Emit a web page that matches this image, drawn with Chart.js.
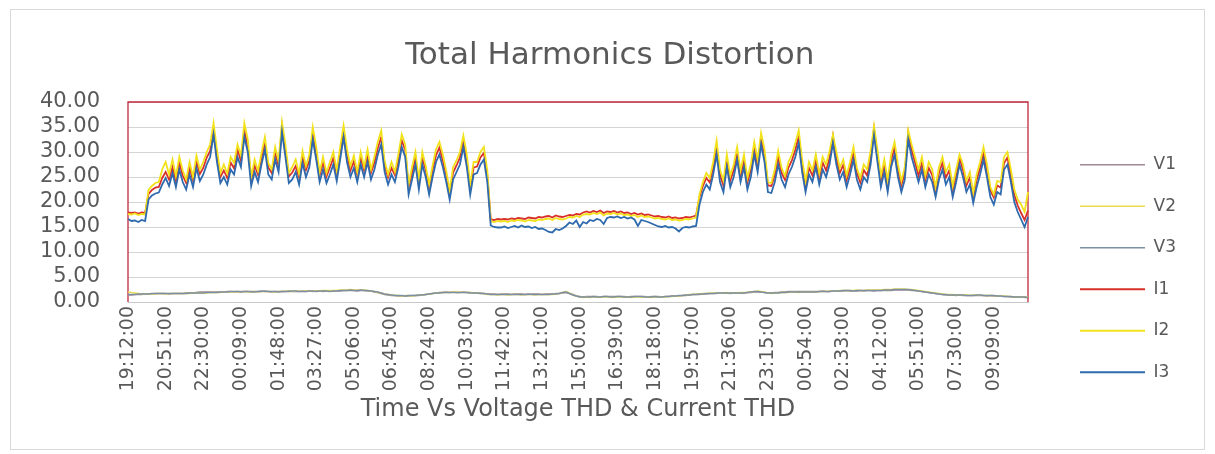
<!DOCTYPE html>
<html>
<head>
<meta charset="utf-8">
<script src="https://cdn.jsdelivr.net/npm/chart.js@4.4.1/dist/chart.umd.min.js"></script>
<style>
html,body{margin:0;padding:0;background:#fff;}
canvas{display:block;}
</style>
</head>
<body>
<canvas id="c" width="1215" height="454"></canvas>
<script>
// ---- data ----
const tickLabels = ['19:12:00','20:51:00','22:30:00','00:09:00','01:48:00','03:27:00','05:06:00','06:45:00',
  '08:24:00','10:03:00','11:42:00','13:21:00','15:00:00','16:39:00','18:18:00','19:57:00','21:36:00',
  '23:15:00','00:54:00','02:33:00','04:12:00','05:51:00','07:30:00','09:09:00'];
const startMinute = 19 * 60 + 12;
const stepMinutes = 9;
const pointCount = 264;
const pad2 = n => String(n).padStart(2, '0');
const categories = [];
for (let k = 0; k < pointCount; k++) {
  const m = (startMinute + k * stepMinutes) % 1440;
  categories.push(pad2(Math.floor(m / 60)) + ':' + pad2(m % 60) + ':00');
}

const v1 = [1.4,1.4,1.5,1.5,1.5,1.6,
  1.6,1.6,1.7,1.7,1.7,1.7,1.6,1.7,1.7,1.7,1.7,1.8,1.8,1.8,1.9,2.0,2.0,
  2.0,2.0,2.0,2.0,2.0,
  2.0,2.1,2.1,2.0,2.1,2.1,2.1,2.1,2.0,2.1,2.1,2.2,2.1,2.1,2.0,2.1,2.1,2.1,2.1,2.2,2.1,2.1,2.1,2.2,2.1,2.2,2.1,2.2,2.2,2.1,2.2,2.2,2.2,2.2,
  2.2,2.3,2.3,2.3,2.3,2.2,2.3,2.3,2.2,2.2,
  2.0,1.9,1.7,1.5,1.4,1.3,
  1.3,1.2,1.2,1.2,1.2,1.3,1.3,1.3,1.4,1.5,1.6,1.7,
  1.8,1.9,1.9,2.0,1.9,2.0,1.9,1.9,2.0,1.9,1.9,1.8,1.8,1.8,1.7,
  1.6,1.6,1.6,1.5,1.6,1.6,1.6,1.5,1.6,1.6,1.6,1.5,1.5,1.6,1.6,1.6,1.5,1.6,1.6,1.6,1.7,1.7,
  1.8,1.9,
  1.7,1.5,1.2,1.1,1.0,
  1.1,1.1,1.1,1.1,1.0,1.1,1.1,1.1,1.1,1.1,1.1,1.1,1.0,1.1,1.1,1.1,1.1,1.1,1.0,1.1,1.1,1.1,1.0,1.1,1.1,1.2,1.2,1.2,1.3,
  1.3,1.4,1.5,1.5,1.5,1.6,1.6,1.7,1.7,1.7,1.8,
  1.8,1.8,1.7,1.8,1.8,1.8,1.8,1.9,
  1.9,2.0,2.0,2.0,1.9,
  1.8,1.8,1.9,1.9,2.0,2.0,
  2.1,2.1,2.1,2.1,2.1,2.1,2.1,2.1,2.1,2.1,2.2,2.1,2.1,
  2.2,2.2,2.2,2.2,2.3,2.2,2.2,2.2,2.3,2.2,2.3,2.3,2.2,2.3,2.3,2.3,2.3,
  2.3,2.4,2.4,2.4,2.4,2.4,2.3,
  2.3,2.2,2.1,2.0,1.9,1.8,1.7,1.6,
  1.5,1.4,1.4,1.4,1.3,1.4,1.3,1.3,1.3,1.3,1.3,1.3,1.3,1.2,1.3,1.2,1.2,
  1.2,1.1,1.1,1.0,1.0,1.0,1.0,0.9,0.9];

const v2 = [2.0,1.9,1.8,1.7,1.6,1.6,
  1.6,1.6,1.6,1.7,1.7,1.6,1.7,1.7,1.7,1.7,1.7,1.7,1.7,1.8,1.8,1.8,1.8,
  1.8,1.9,1.9,1.9,1.9,
  2.0,2.0,2.0,2.1,2.0,2.0,2.1,2.0,2.1,2.1,2.0,2.1,2.1,2.1,2.1,2.0,2.1,2.1,2.2,2.1,2.1,2.2,2.2,2.1,2.2,2.2,2.2,2.2,2.2,2.3,2.3,2.3,2.3,2.3,
  2.4,2.4,2.4,2.5,2.4,2.4,2.4,2.4,2.3,2.2,
  2.1,1.9,1.8,1.6,1.5,1.4,
  1.3,1.3,1.2,1.3,1.3,1.2,1.3,1.4,1.4,1.5,1.6,1.7,
  1.8,1.8,1.9,1.9,1.9,2.0,2.0,2.0,1.9,1.9,1.9,1.8,1.8,1.7,1.7,
  1.5,1.5,1.5,1.4,1.5,1.5,1.4,1.5,1.5,1.5,1.4,1.5,1.5,1.5,1.4,1.5,1.5,1.5,1.5,1.5,1.6,1.7,
  1.9,2.1,
  1.8,1.4,1.2,1.0,0.9,
  1.0,0.9,1.0,1.0,1.0,1.0,1.0,1.0,0.9,1.0,1.0,1.0,1.0,0.9,1.0,1.0,1.0,1.0,1.0,0.9,1.0,1.0,1.0,1.0,1.1,1.1,1.2,1.2,1.3,
  1.4,1.5,1.5,1.6,1.6,1.7,1.7,1.8,1.8,1.8,1.8,
  1.8,1.9,1.8,1.8,1.8,1.9,1.9,1.9,
  2.0,2.1,2.2,2.1,2.0,
  1.8,1.7,1.8,1.8,1.9,1.9,
  1.9,2.0,2.0,1.9,2.0,2.0,2.0,2.0,2.0,2.1,2.1,2.1,2.2,
  2.2,2.2,2.3,2.3,2.3,2.3,2.3,2.4,2.3,2.3,2.4,2.4,2.4,2.4,2.4,2.5,2.5,
  2.5,2.6,2.6,2.6,2.6,2.5,2.5,
  2.4,2.3,2.2,2.1,2.0,1.9,1.8,1.7,
  1.6,1.5,1.5,1.5,1.4,1.4,1.4,1.4,1.3,1.4,1.4,1.4,1.3,1.3,1.3,1.3,1.2,
  1.2,1.2,1.1,1.1,1.0,1.0,1.0,1.0,1.0];

const v3 = [1.5,1.5,1.5,1.6,1.6,1.6,
  1.6,1.7,1.7,1.7,1.7,1.7,1.7,1.7,1.7,1.7,1.7,1.7,1.8,1.8,1.8,1.8,1.8,
  1.9,1.9,1.9,1.9,2.0,
  2.0,2.0,2.1,2.1,2.1,2.0,2.1,2.1,2.1,2.0,2.1,2.1,2.2,2.1,2.1,2.1,2.0,2.1,2.1,2.1,2.2,2.2,2.1,2.1,2.1,2.2,2.2,2.1,2.2,2.2,2.2,2.1,2.2,2.2,
  2.3,2.3,2.3,2.4,2.3,2.3,2.4,2.3,2.3,2.2,
  2.1,2.0,1.8,1.6,1.5,1.4,
  1.3,1.3,1.3,1.2,1.3,1.3,1.3,1.4,1.4,1.5,1.6,1.7,
  1.8,1.8,1.9,1.9,1.9,1.9,1.9,1.9,1.9,1.9,1.8,1.8,1.8,1.7,1.7,
  1.6,1.5,1.5,1.5,1.5,1.5,1.5,1.5,1.5,1.5,1.5,1.5,1.6,1.5,1.5,1.5,1.5,1.5,1.5,1.6,1.6,1.7,
  1.9,2.0,
  1.7,1.4,1.2,1.0,1.0,
  1.0,1.0,1.1,1.0,1.0,1.1,1.1,1.0,1.0,1.1,1.1,1.0,1.0,1.0,1.1,1.1,1.1,1.0,1.0,1.0,1.1,1.0,1.0,1.1,1.1,1.2,1.2,1.3,1.3,
  1.4,1.4,1.5,1.5,1.6,1.6,1.7,1.7,1.7,1.8,1.8,
  1.8,1.8,1.8,1.8,1.8,1.8,1.8,1.9,
  2.0,2.1,2.1,2.0,1.9,
  1.8,1.8,1.8,1.8,1.9,1.9,
  2.0,2.0,2.0,2.0,2.0,2.0,2.0,2.0,2.0,2.1,2.1,2.1,2.1,
  2.2,2.2,2.2,2.3,2.3,2.3,2.2,2.3,2.3,2.3,2.3,2.3,2.3,2.3,2.3,2.4,2.4,
  2.4,2.5,2.5,2.5,2.5,2.5,2.4,
  2.3,2.2,2.1,2.0,1.9,1.8,1.7,1.6,
  1.5,1.5,1.4,1.4,1.4,1.4,1.4,1.3,1.3,1.3,1.4,1.4,1.3,1.3,1.3,1.3,1.2,
  1.2,1.1,1.1,1.1,1.0,1.0,1.0,1.0,0.9];

const i1 = [17.9,17.8,17.9,17.7,17.9,17.8,21.6,22.4,22.9,23.0,
  24.8,26.0,24.5,27.0,24.2,27.9,25.3,23.8,26.9,24.3,
  28.0,25.6,26.8,28.9,30.2,34.6,29.4,25.0,26.3,24.8,
  27.9,26.7,30.5,28.2,34.3,31.2,24.5,27.3,25.4,28.8,
  31.8,26.9,25.8,29.9,27.2,35.1,30.3,25.1,25.9,27.2,
  24.9,29.0,26.4,28.3,33.8,29.9,25.3,27.8,25.1,26.9,
  28.8,25.6,29.8,34.2,29.4,26.3,28.1,25.4,28.8,26.3,
  29.4,25.8,27.9,30.8,32.9,27.3,24.9,26.8,25.4,28.3,
  32.3,30.4,22.9,25.8,28.9,23.8,28.8,26.4,22.8,26.4,
  29.3,30.9,28.3,25.4,21.8,25.9,27.3,28.9,32.3,28.4,
  22.8,26.9,27.1,28.9,29.8,25.4,16.5,16.4,16.6,16.5,
  16.6,16.5,16.7,16.6,16.8,16.7,16.6,16.9,16.8,16.7,
  17.0,16.9,17.1,17.2,16.9,17.3,17.1,17.0,17.2,17.4,
  17.3,17.6,17.5,17.9,18.1,17.9,18.2,18.0,18.3,17.8,
  18.1,18.0,18.2,17.9,18.1,17.8,17.9,17.6,17.8,17.5,
  17.7,17.4,17.5,17.3,17.1,17.2,17.0,16.9,17.1,16.8,
  16.9,16.7,16.8,17.0,16.9,17.1,17.3,21.0,23.2,24.8,
  23.9,26.8,30.8,25.4,23.3,28.4,24.3,26.4,29.8,25.3,
  28.3,23.9,26.4,30.8,27.4,32.8,29.4,23.3,23.2,25.4,
  28.9,25.8,24.4,26.9,28.3,30.4,33.1,27.4,23.4,26.8,
  25.3,28.4,24.8,27.9,26.3,28.8,33.2,28.9,25.8,27.4,
  24.4,26.8,29.9,25.8,23.9,26.4,25.3,28.9,34.6,29.4,
  24.3,27.4,23.4,28.3,30.9,26.3,23.4,25.8,33.8,30.4,
  27.9,25.3,27.8,24.4,26.8,25.4,22.3,25.9,27.8,24.9,
  26.3,22.4,25.3,28.9,26.4,23.3,24.9,21.1,24.4,26.8,
  29.8,26.4,22.3,20.9,23.3,22.9,27.8,28.9,25.3,21.4,
  19.3,17.8,16.4,18.3];

const i2 = [17.6,17.5,17.7,17.4,17.6,17.5,22.4,23.2,23.8,24.0,
  26.5,28.0,25.5,28.5,25.2,29.0,26.3,24.5,28.0,25.0,
  29.3,26.5,28.0,30.0,31.5,35.8,30.5,25.8,27.5,25.7,
  29.0,27.8,31.5,29.3,35.8,32.5,25.0,28.5,26.2,29.8,
  33.0,27.8,26.5,31.0,28.2,36.0,31.5,25.8,27.0,28.5,
  25.6,30.2,27.2,29.5,35.0,31.0,26.0,29.0,25.8,28.0,
  30.0,26.3,31.0,35.3,30.5,27.2,29.3,26.0,30.0,27.0,
  30.5,26.5,29.0,32.0,34.3,28.2,25.5,28.0,26.0,29.5,
  33.5,31.5,23.5,27.0,30.0,24.5,30.0,27.2,23.5,27.3,
  30.5,32.0,29.5,26.2,22.3,27.0,28.3,30.0,33.3,29.5,
  23.5,28.0,28.0,30.0,31.0,26.3,16.2,16.0,16.2,16.1,
  16.2,16.0,16.3,16.2,16.4,16.3,16.1,16.4,16.3,16.2,
  16.5,16.4,16.6,16.7,16.4,16.8,16.6,16.5,16.7,17.0,
  16.9,17.2,17.0,17.5,17.6,17.5,17.8,17.6,17.9,17.3,
  17.7,17.6,17.8,17.5,17.7,17.4,17.5,17.2,17.4,17.0,
  17.3,17.0,17.1,16.9,16.7,16.8,16.6,16.5,16.7,16.4,
  16.5,16.3,16.4,16.6,16.5,16.7,16.9,21.5,24.0,25.8,
  24.8,28.0,32.3,26.5,24.3,29.5,25.2,27.5,31.0,26.3,
  29.5,24.8,27.5,32.0,28.5,33.8,30.5,24.0,23.8,26.5,
  30.2,26.8,25.2,28.0,29.5,31.8,34.3,28.5,24.2,28.0,
  26.3,29.5,25.7,29.0,27.5,30.2,33.5,30.0,26.8,28.5,
  25.3,28.0,31.0,26.8,24.8,27.5,26.5,30.2,35.2,30.5,
  25.2,28.5,24.3,29.5,32.0,27.5,24.2,27.0,34.3,31.5,
  29.0,26.5,29.0,25.2,28.0,26.5,23.0,27.0,29.0,26.0,
  27.5,23.2,26.5,29.5,27.5,24.2,26.0,21.8,25.5,28.0,
  31.0,27.5,23.0,21.5,24.2,24.0,29.0,30.0,26.5,22.5,
  20.5,19.5,18.0,22.0];

const i3 = [16.6,16.2,16.3,16.0,16.4,16.2,20.5,21.3,21.7,21.9,
  23.5,24.8,23.2,25.8,23.0,26.5,24.0,22.5,25.5,23.0,
  26.8,24.2,25.5,27.5,29.0,33.5,28.0,23.8,25.0,23.5,
  26.5,25.5,29.0,27.0,33.0,30.0,23.2,26.0,24.0,27.5,
  30.5,25.5,24.5,28.5,26.0,34.0,29.0,23.8,24.5,26.0,
  23.5,27.8,25.0,27.0,32.5,28.5,24.0,26.5,23.8,25.5,
  27.5,24.2,28.5,33.0,28.0,25.0,26.8,24.0,27.5,25.0,
  28.0,24.5,26.5,29.5,31.5,26.0,23.5,25.5,24.0,27.0,
  31.0,29.0,21.5,24.5,27.5,22.5,27.5,25.0,21.5,25.0,
  28.0,29.5,27.0,24.0,20.5,24.5,26.0,27.5,31.0,27.0,
  21.5,25.5,25.8,27.5,28.5,24.0,15.3,15.0,14.9,14.9,
  15.1,14.8,15.0,15.2,14.9,15.3,15.0,15.1,14.8,15.0,
  14.6,14.7,14.4,14.0,13.9,14.6,14.4,14.7,15.2,15.9,
  15.6,16.3,15.0,16.0,15.7,16.4,16.2,16.6,16.4,15.6,
  16.8,17.0,16.9,17.1,16.8,17.0,16.7,16.9,16.5,15.2,
  16.4,16.2,16.0,15.7,15.4,15.1,15.0,15.2,14.9,15.0,
  14.7,14.1,14.8,15.0,14.9,15.1,15.2,19.5,22.0,23.5,
  22.5,25.5,29.5,24.0,22.0,27.0,23.0,25.0,28.5,24.0,
  27.0,22.5,25.0,29.5,26.0,31.5,28.0,22.0,21.8,24.0,
  27.5,24.5,23.0,25.5,27.0,29.0,31.8,26.0,22.0,25.5,
  24.0,27.0,23.5,26.5,25.0,27.5,31.8,27.5,24.5,26.0,
  23.0,25.5,28.5,24.5,22.5,25.0,24.0,27.5,33.3,28.0,
  23.0,26.0,22.0,27.0,29.5,25.0,22.0,24.5,32.5,29.0,
  26.5,24.0,26.5,23.0,25.5,24.0,21.0,24.5,26.5,23.5,
  25.0,21.0,24.0,27.5,25.0,22.0,23.5,19.8,23.0,25.5,
  28.5,25.0,21.0,19.5,22.0,21.5,26.5,27.5,24.0,20.0,
  18.0,16.5,15.0,17.0];

// ---- chart ----
Chart.defaults.font.family = "'DejaVu Sans', sans-serif";
Chart.defaults.color = '#595959';

const framePlugin = {
  id: 'frame',
  beforeDraw(chart) {
    const c = chart.ctx;
    c.save();
    c.fillStyle = '#ffffff';
    c.fillRect(0, 0, chart.width, chart.height);
    c.strokeStyle = '#d9d9d9';
    c.lineWidth = 1;
    c.strokeRect(10.5, 9.5, 1194, 440);
    c.restore();
  },
  beforeDatasetsDraw(chart) {
    const {left, top, right, bottom} = chart.chartArea;
    const c = chart.ctx;
    c.save();
    c.strokeStyle = '#c0283c';
    c.lineWidth = 1.3;
    c.beginPath();
    c.moveTo(left, bottom);
    c.lineTo(left, top);
    c.lineTo(right, top);
    c.lineTo(right, bottom);
    c.stroke();
    c.restore();
  }
};

function ds(label, data, color, width, order) {
  return {label, data, borderColor: color, backgroundColor: color, borderWidth: width,
    pointRadius: 0, tension: 0, fill: false, order};
}

new Chart(document.getElementById('c'), {
  type: 'line',
  data: {
    labels: categories,
    datasets: [
      ds('V1', v1, '#a08894', 1.6, 6),
      ds('V2', v2, '#e8dc50', 1.6, 5),
      ds('V3', v3, '#7b8ea3', 1.6, 4),
      ds('I1', i1, '#d8302a', 1.8, 3),
      ds('I2', i2, '#f2e21c', 1.8, 2),
      ds('I3', i3, '#2e6aad', 1.8, 1)
    ]
  },
  options: {
    responsive: false,
    devicePixelRatio: 1,
    animation: false,
    events: [],
    layout: { padding: { left: 39, right: 34.5, top: 0, bottom: 0 } },
    scales: {
      x: {
        type: 'category',
        grid: { display: false, drawTicks: false },
        border: { display: true, color: '#c8c8c8' },
        ticks: {
          autoSkip: false, minRotation: 90, maxRotation: 90, padding: 4,
          font: { size: 19 }, color: '#595959',
          callback: (v, i) => (i % 11 === 0 ? tickLabels[i / 11] : null)
        },
        title: { display: true, text: 'Time Vs Voltage THD & Current THD',
          font: { size: 24 }, color: '#595959', padding: { top: 4, bottom: 29.6 } },
        afterFit: s => { s.height = 152; }
      },
      y: {
        min: 0, max: 40,
        grid: { color: '#d4d4d4', drawTicks: false },
        border: { display: false },
        ticks: { stepSize: 5, autoSkip: false, padding: 28, font: { size: 21 }, color: '#595959',
          callback: v => Number(v).toFixed(2) },
        afterFit: s => { s.width = 89; }
      },
      ySpacer: {
        type: 'linear', position: 'right', display: true,
        grid: { display: false, drawTicks: false },
        border: { display: false },
        ticks: { display: false },
        afterFit: s => { s.width = 27.5; }
      }
    },
    plugins: {
      title: {
        display: true, text: 'Total Harmonics Distortion',
        font: { size: 31, weight: 'normal' }, color: '#595959',
        padding: { top: 37.4, bottom: 27.4 }
      },
      legend: {
        position: 'right', align: 'center', maxWidth: 125,
        title: { display: true, text: '', font: { size: 12 }, padding: { top: 68.6, bottom: 0 } },
        labels: {
          usePointStyle: true, pointStyle: 'line', pointStyleWidth: 65,
          padding: 24.5, font: { size: 17 }, color: '#595959',
          sort: (a, b) => a.datasetIndex - b.datasetIndex
        }
      },
      tooltip: { enabled: false }
    }
  },
  plugins: [framePlugin]
});
</script>
</body>
</html>
